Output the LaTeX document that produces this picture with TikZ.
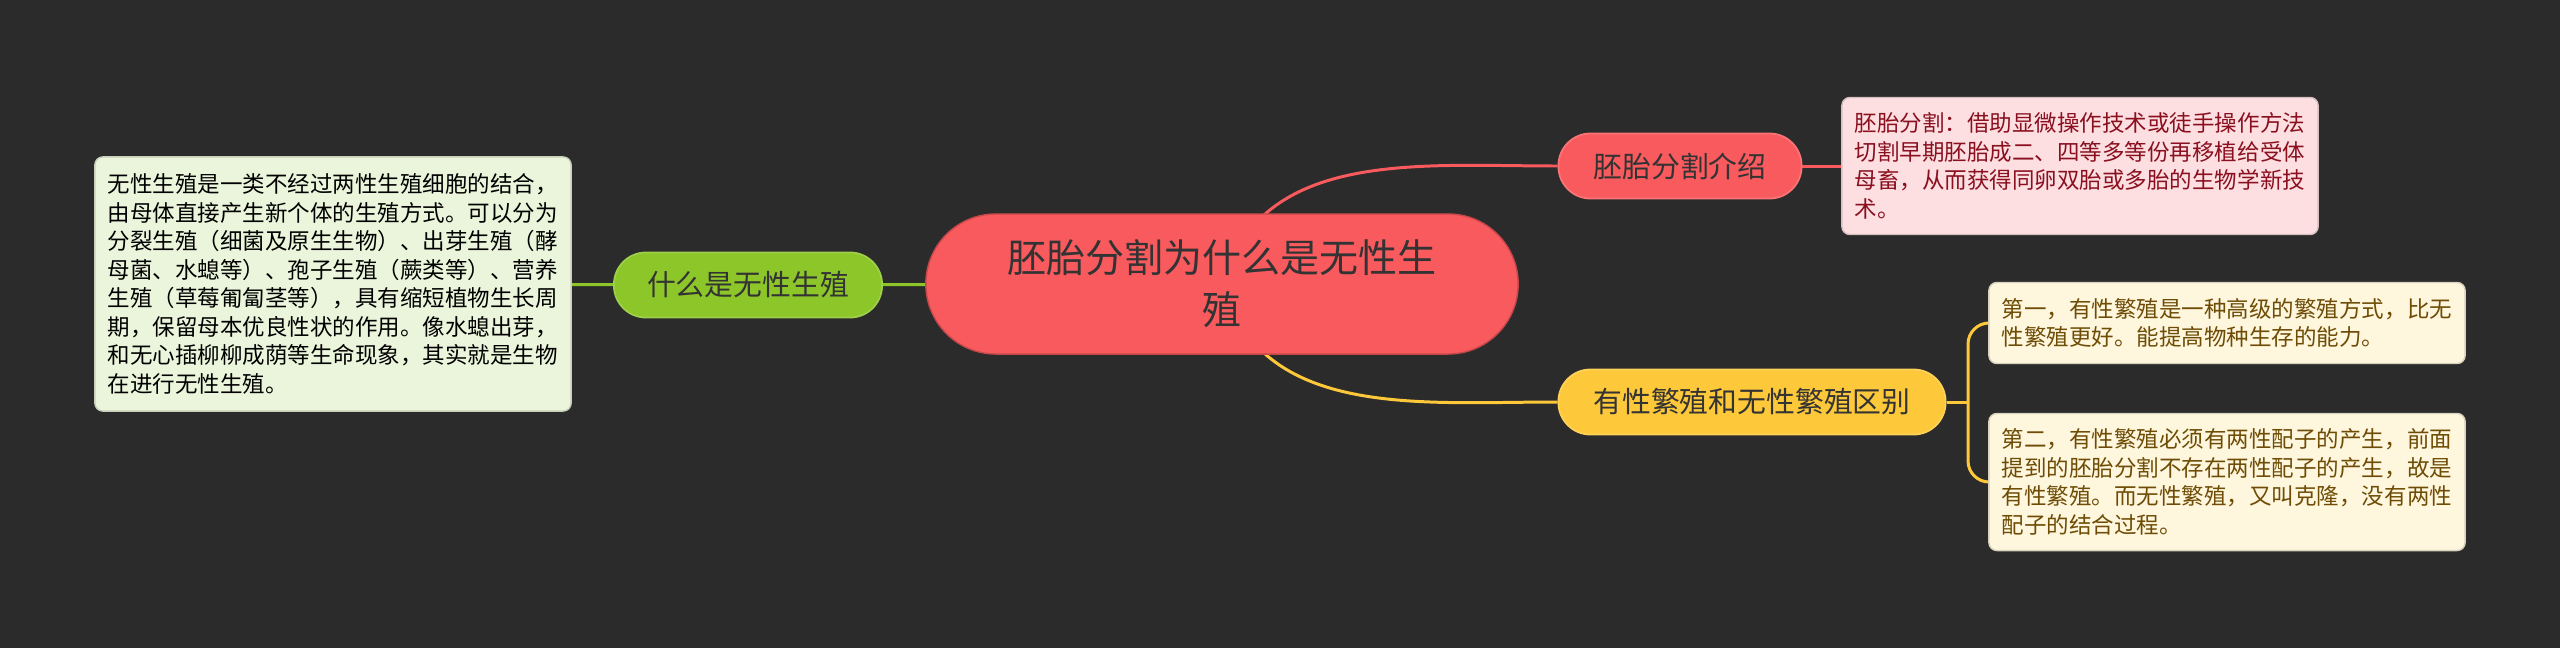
\documentclass[tikz,border=0pt]{standalone}
\usepackage{fontspec}
\usepackage{xcolor}
\usepackage{tikz}
\usetikzlibrary{backgrounds}

\newfontfamily\cjk{Noto Sans CJK SC}

\definecolor{bgcol}{HTML}{2B2B2B}
\definecolor{rootred}{HTML}{F95A5E}
\definecolor{leafgreen}{HTML}{8CC629}
\definecolor{lightgreen}{HTML}{EBF5DB}
\definecolor{lightpink}{HTML}{FDDFE1}
\definecolor{darkred}{HTML}{8A1020}
\definecolor{gold}{HTML}{FDC93A}
\definecolor{lightgold}{HTML}{FEF6DD}
\definecolor{darkgold}{HTML}{6E4C05}
\definecolor{ink}{HTML}{333333}

\tikzset{
  rootnode/.style={fill=rootred, draw=rootred!80!black, line width=0.4pt,
    rounded corners=0.7cm, minimum width=5.92cm, minimum height=1.4cm,
    align=center, text=ink, font=\cjk\fontsize{11.1pt}{14.8pt}\selectfont},
  topic/.style={draw=#1!85!white, fill=#1, line width=0.5pt,
    rounded corners=0.32cm, minimum height=0.65cm, inner xsep=0.3cm,
    text=ink, font=\cjk\fontsize{8.2pt}{10pt}\selectfont},
  textbox/.style={fill=#1, draw=#1!85!black, line width=0.4pt,
    rounded corners=0.08cm, text width=4.5cm, inner xsep=0.13cm,
    align=left, font=\cjk\fontsize{6.4pt}{8.1pt}\selectfont},
  link/.style={draw=#1, line width=0.85pt},
}

\begin{document}
\begin{tikzpicture}[x=0.01cm,y=-0.01cm]
        \useasboundingbox (0,0) rectangle (2560,648);

        \node[rootnode] (root) at (1222,284) {胚胎分割为什么是无性生\\殖};

        \node[topic=leafgreen, minimum width=2.68cm] (what) at (748,285) {什么是无性生殖};
        \node[textbox=lightgreen, text=black, minimum height=2.54cm] (whatbox) at (333,284)
          {无性生殖是一类不经过两性生殖细胞的结合，\\由母体直接产生新个体的生殖方式。可以分为\\分裂生殖（细菌及原生生物）、出芽生殖（酵\\母菌、水螅等）、孢子生殖（蕨类等）、营养\\生殖（草莓匍匐茎等），具有缩短植物生长周\\期，保留母本优良性状的作用。像水螅出芽，\\和无心插柳柳成荫等生命现象，其实就是生物\\在进行无性生殖。};

        \node[topic=rootred, minimum width=2.43cm] (intro) at (1680,166) {胚胎分割介绍};
        \node[textbox=lightpink, text=darkred, minimum height=1.37cm] (introbox) at (2080,166)
          {胚胎分割：借助显微操作技术或徒手操作方法\\切割早期胚胎成二、四等多等份再移植给受体\\母畜，从而获得同卵双胎或多胎的生物学新技\\术。};

        \node[topic=gold, minimum width=3.87cm] (diff) at (1752,402) {有性繁殖和无性繁殖区别};
        \node[textbox=lightgold, text=darkgold, minimum height=0.81cm] (first) at (2227,323)
          {第一，有性繁殖是一种高级的繁殖方式，比无\\性繁殖更好。能提高物种生存的能力。};
        \node[textbox=lightgold, text=darkgold, minimum height=1.37cm] (second) at (2227,482)
          {第二，有性繁殖必须有两性配子的产生，前面\\提到的胚胎分割不存在两性配子的产生，故是\\有性繁殖。而无性繁殖，又叫克隆，没有两性\\配子的结合过程。};

        \coordinate (fork) at (1968,402);

        \begin{pgfonlayer}{background}
        \fill[bgcol] (0,0) rectangle (2560,648);
        \draw[link=leafgreen] (whatbox) -- (what);
        \draw[link=leafgreen] (what) -- (root);
        \draw[link=rootred] (root.center) .. controls +(40,-135) and +(-140,0) .. (intro.west);
        \draw[link=rootred] (intro) -- (introbox);
        \draw[link=gold] (root.center) .. controls +(40,135) and +(-140,0) .. (diff.west);
        \draw[link=gold] (diff) -- (fork);
        \draw[link=gold, rounded corners=6pt] (fork) |- (first.west);
        \draw[link=gold, rounded corners=6pt] (fork) |- (second.west);
        \end{pgfonlayer}
    \end{tikzpicture}
\end{document}
